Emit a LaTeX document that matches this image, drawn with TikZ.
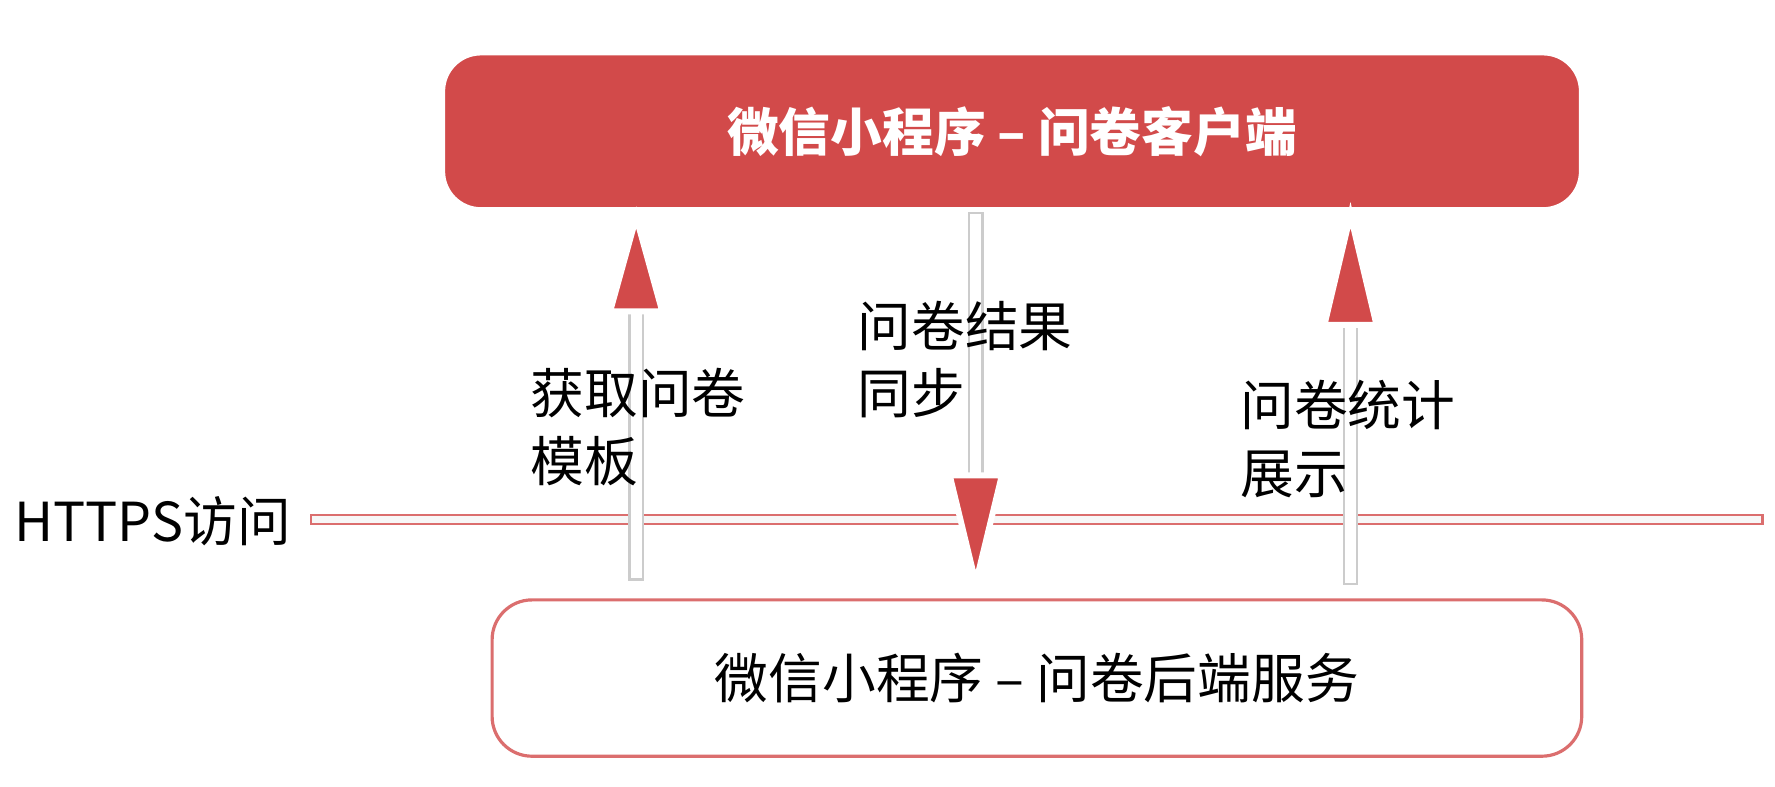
\documentclass[tikz,border=0pt]{standalone}
\usepackage{fontspec}
\setmainfont{Noto Sans CJK SC}
\usetikzlibrary{positioning}
\definecolor{boxred}{HTML}{D24A4A}
\begin{document}
\begin{tikzpicture}[x=0.01cm,y=-0.01cm,
    shaft/.style={draw=black!20,fill=white,line width=0.6pt},
    tip/.style={draw=white,fill=boxred,line width=1.5pt},
    lbl/.style={align=left,anchor=north west,font=\fontsize{13.5pt}{17pt}\selectfont,inner sep=0pt}]
    %frame
    \useasboundingbox (0,0) rectangle (1568,695);
    %boxes
    \node (client) [draw=white,line width=2pt,fill=boxred,rounded corners=10pt,
      minimum width=1008\pgflinewidth,minimum width=10.08cm,minimum height=1.41cm,
      text=white,font=\fontsize{13pt}{15pt}\selectfont\bfseries] at (894,116) {微信小程序 – 问卷客户端};
    \node (server) [draw=boxred!80,line width=0.8pt,fill=white,rounded corners=10pt,
      minimum width=9.62cm,minimum height=1.38cm,
      font=\fontsize{13.5pt}{15pt}\selectfont] at (916,599) {微信小程序 – 问卷后端服务};
    %https line
    \draw [draw=boxred!80,fill=black!3,line width=0.6pt] (275,455) rectangle (1557,463);
    \node (https) [anchor=west,font=\fontsize{13.5pt}{15pt}\selectfont,inner sep=0pt] at (12,460) {HTTPS访问};
    %arrows
    \draw [shaft] (556,512) rectangle (568,270);
    \draw [tip] (562,192) -- (585,275) -- (539,275) -- cycle;
    \draw [shaft] (856,188) rectangle (868,425);
    \draw [tip] (862,515) -- (885,420) -- (839,420) -- cycle;
    \draw [shaft] (1187,516) rectangle (1199,282);
    \draw [tip] (1193,190) -- (1216,287) -- (1170,287) -- cycle;
    %labels
    \node (get) [lbl] at (468,325) {获取问卷\\模板};
    \node (sync) [lbl] at (757,265) {问卷结果\\同步};
    \node (stat) [lbl] at (1095,335) {问卷统计\\展示};
\end{tikzpicture}
\end{document}
